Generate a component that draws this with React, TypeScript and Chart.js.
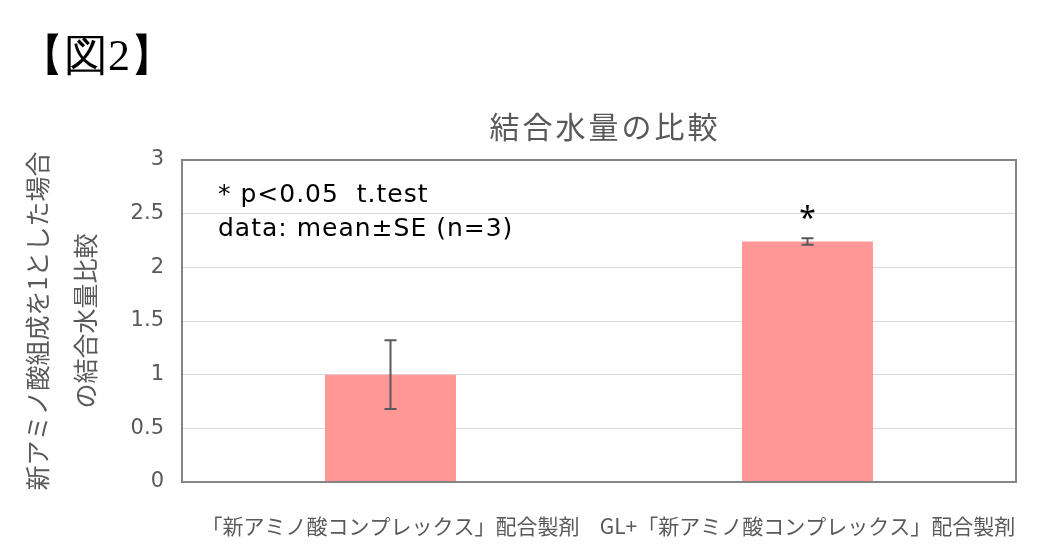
import React, { useEffect, useRef } from 'react';
import { Chart, registerables } from 'chart.js';

Chart.register(...registerables);

const figureLabel = '【図2】';
const chartTitle = '結合水量の比較';
const categories = ['「新アミノ酸コンプレックス」配合製剤', 'GL+「新アミノ酸コンプレックス」配合製剤'];
const means = [1.0, 2.24];
const standardErrors = [0.32, 0.03];
const significance = ['', '*'];
const yMin = 0;
const yMax = 3;
const yStep = 0.5;
const yTitle = ['新アミノ酸組成を1とした場合', 'の結合水量比較'];
const noteLines = ['* p<0.05  t.test', 'data: mean±SE (n=3)'];

const JP = '"Noto Sans CJK JP", "Noto Sans", sans-serif';

const overlayPlugin = {
  id: 'overlay',
  afterDatasetsDraw(chart: any) {
    const { ctx, chartArea, scales } = chart;
    const y = scales.y;
    const meta = chart.getDatasetMeta(0);
    ctx.save();
    meta.data.forEach((bar: any, i: number) => {
      const x = bar.x;
      const yTop = y.getPixelForValue(means[i] + standardErrors[i]);
      const yBot = y.getPixelForValue(means[i] - standardErrors[i]);
      ctx.strokeStyle = '#595959';
      ctx.lineWidth = 2;
      ctx.beginPath();
      ctx.moveTo(x, yTop);
      ctx.lineTo(x, yBot);
      ctx.moveTo(x - 6, yTop);
      ctx.lineTo(x + 6, yTop);
      ctx.moveTo(x - 6, yBot);
      ctx.lineTo(x + 6, yBot);
      ctx.stroke();
      if (significance[i]) {
        ctx.fillStyle = '#000000';
        ctx.font = '30px "Noto Sans", sans-serif';
        ctx.textAlign = 'center';
        ctx.textBaseline = 'middle';
        ctx.fillText(significance[i], x, yTop - 19);
      }
    });
    ctx.fillStyle = '#000000';
    ctx.font = '25px "DejaVu Sans", sans-serif';
    (ctx as any).letterSpacing = '1px';
    ctx.textAlign = 'left';
    ctx.textBaseline = 'middle';
    noteLines.forEach((line, i) => {
      ctx.fillText(line, chartArea.left + 36, chartArea.top + 35 + i * 34);
    });
    // chart title
    ctx.fillStyle = '#595959';
    ctx.font = '30px ' + JP;
    (ctx as any).letterSpacing = '3px';
    ctx.textAlign = 'center';
    ctx.textBaseline = 'middle';
    ctx.fillText(chartTitle, (chartArea.left + chartArea.right) / 2 + 6, chartArea.top - 33);
    ctx.restore();
  },
  afterDraw(chart: any) {
    const { ctx, chartArea } = chart;
    ctx.save();
    ctx.strokeStyle = '#858585';
    ctx.lineWidth = 2;
    ctx.strokeRect(chartArea.left, chartArea.top, chartArea.right - chartArea.left, chartArea.bottom - chartArea.top);
    ctx.restore();
  },
};

export default function App() {
  const canvasRef = useRef<HTMLCanvasElement | null>(null);

  useEffect(() => {
    if (!canvasRef.current) return;
    const chart = new Chart(canvasRef.current, {
      type: 'bar',
      data: {
        labels: categories,
        datasets: [
          {
            data: means,
            backgroundColor: '#FF9797',
            borderWidth: 0,
            categoryPercentage: 1,
            barPercentage: 0.314,
          },
        ],
      },
      options: {
        responsive: false,
        maintainAspectRatio: false,
        animation: false,
        devicePixelRatio: 1,
        layout: { padding: { top: 160, right: 31, bottom: 19, left: 0 } },
        plugins: {
          legend: { display: false },
          tooltip: { enabled: false },
          title: { display: false },
        },
        scales: {
          x: {
            grid: { display: false, drawTicks: false },
            border: { display: false },
            ticks: {
              color: '#595959',
              font: { family: JP, size: 21 },
              padding: 31,
              maxRotation: 0,
              minRotation: 0,
              autoSkip: false,
            },
            afterFit: (scale: any) => {
              scale.height = 55;
              scale.paddingLeft = 0;
              scale.paddingRight = 0;
            },
          },
          y: {
            min: yMin,
            max: yMax,
            grid: { color: '#D9D9D9', lineWidth: 1, drawTicks: false },
            border: { display: false },
            ticks: {
              stepSize: yStep,
              color: '#595959',
              font: { family: '"DejaVu Sans", sans-serif', size: 21 },
              padding: 18,
              callback: (v: any) => String(v),
            },
            title: {
              display: true,
              text: yTitle,
              color: '#595959',
              font: { family: JP, size: 25, lineHeight: 1.92 },
              padding: { top: 13, bottom: 0 },
            },
            afterFit: (scale: any) => {
              scale.width = 182;
            },
          },
        },
      },
      plugins: [overlayPlugin],
    });
    return () => chart.destroy();
  }, []);

  return (
    <div style={{ position: 'absolute', left: 0, top: 0, width: 1047, height: 556, background: '#ffffff' }}>
      <canvas ref={canvasRef} width={1047} height={556} style={{ position: 'absolute', left: 0, top: 0, width: 1047, height: 556 }} />
      <div
        style={{
          position: 'absolute',
          left: 20,
          top: 26,
          fontFamily: 'serif',
          fontSize: 44,
          lineHeight: '60px',
          color: '#000000',
          whiteSpace: 'nowrap',
        }}
      >
        {figureLabel}
      </div>
    </div>
  );
}
